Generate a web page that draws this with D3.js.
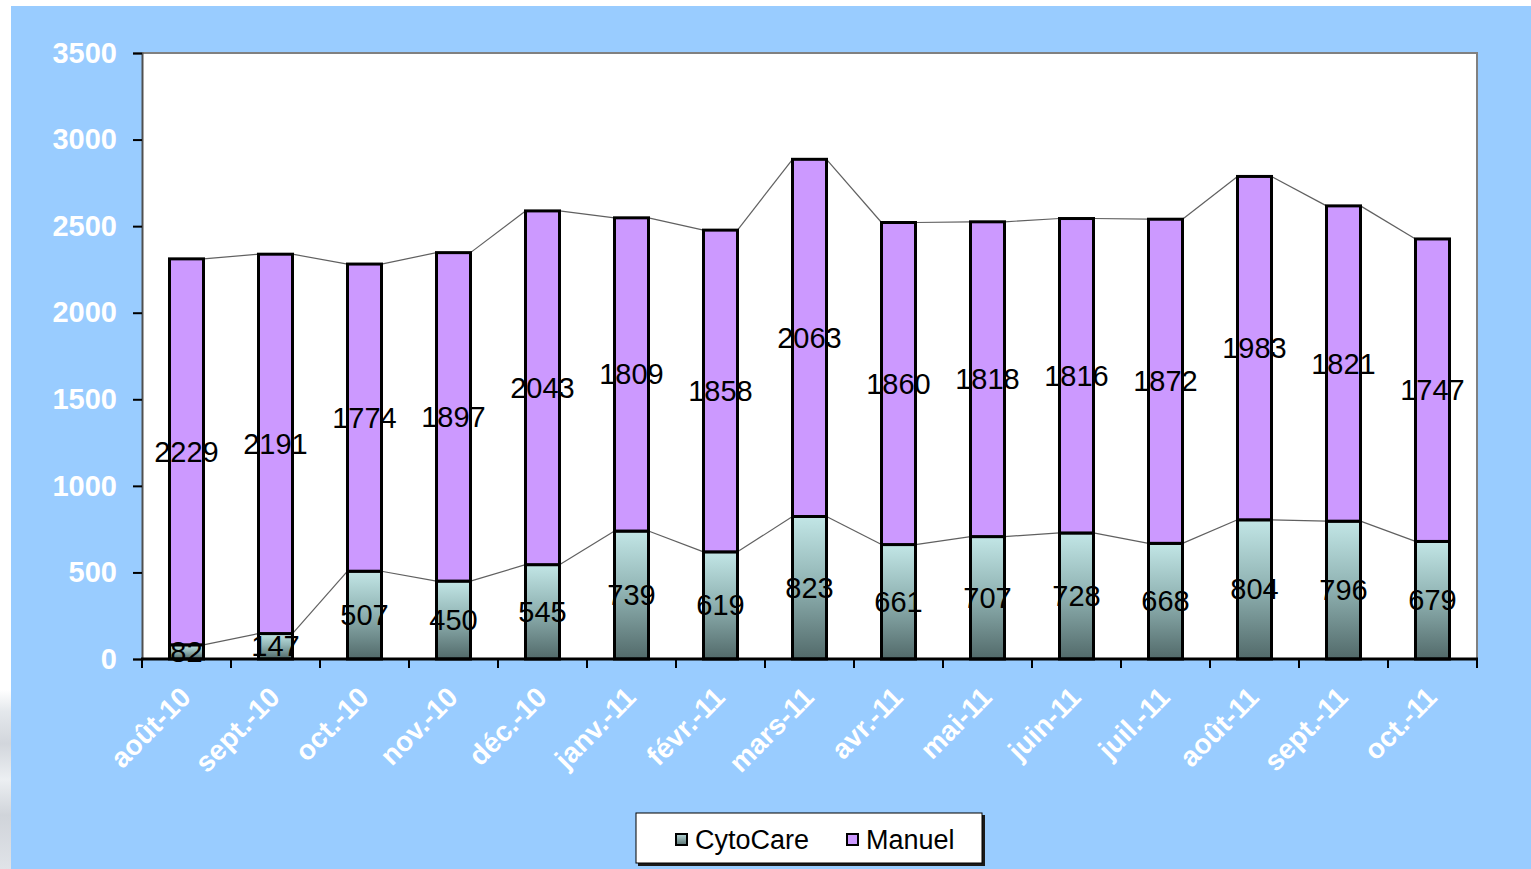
<!DOCTYPE html>
<html>
<head>
<meta charset="utf-8">
<script src="https://cdn.jsdelivr.net/npm/d3@7"></script>
<style>
  html, body { margin: 0; padding: 0; background: #ffffff; }
  svg { display: block; }
  text { font-family: "Liberation Sans", Arial, sans-serif; }
</style>
</head>
<body>
<svg id="chart" width="1531" height="869"></svg>
<script>
// Monthly counts, stacked: CytoCare (bottom) and Manuel (top)
const months = ["août-10", "sept.-10", "oct.-10", "nov.-10", "déc.-10", "janv.-11", "févr.-11",
                "mars-11", "avr.-11", "mai-11", "juin-11", "juil.-11", "août-11", "sept.-11", "oct.-11"];
const cytoCare = [82, 147, 507, 450, 545, 739, 619, 823, 661, 707, 728, 668, 804, 796, 679];
const manuel = [2229, 2191, 1774, 1897, 2043, 1809, 1858, 2063, 1860, 1818, 1816, 1872, 1983, 1821, 1747];
const seriesNames = ["CytoCare", "Manuel"];
const yTicks = [0, 500, 1000, 1500, 2000, 2500, 3000, 3500];

const svg = d3.select("#chart");
const W = 1531, H = 869;
const plot = { left: 142, top: 53, right: 1477, bottom: 659 };

// Page background
svg.append("rect").attr("x", 0).attr("y", 0).attr("width", W).attr("height", H).attr("fill", "#ffffff");
// Soft grey texture at the lower left margin
const defs = svg.append("defs");
const haze = defs.append("linearGradient").attr("id", "haze").attr("x1", 0).attr("y1", 0).attr("x2", 0).attr("y2", 1);
[["0%", "#ffffff"], ["12%", "#e4e8ec"], ["30%", "#d2d6dc"], ["50%", "#eceff2"], ["70%", "#d0d4da"], ["100%", "#e0e3e8"]]
  .forEach(([o, c]) => haze.append("stop").attr("offset", o).attr("stop-color", c));
svg.append("rect").attr("x", 0).attr("y", 690).attr("width", 11).attr("height", H - 690).attr("fill", "url(#haze)");

svg.append("rect").attr("x", 11).attr("y", 6).attr("width", W - 11).attr("height", H - 6).attr("fill", "#99ccff");

// Gradient for CytoCare segments
const grad = defs.append("linearGradient").attr("id", "cytoGrad")
  .attr("x1", 0).attr("y1", 0).attr("x2", 0).attr("y2", 1);
grad.append("stop").attr("offset", "0%").attr("stop-color", "#c2e6e6");
grad.append("stop").attr("offset", "45%").attr("stop-color", "#93b6b6");
grad.append("stop").attr("offset", "100%").attr("stop-color", "#526a6a");
const gradLeg = defs.append("linearGradient").attr("id", "cytoGradLeg")
  .attr("x1", 0).attr("y1", 0).attr("x2", 0).attr("y2", 1);
gradLeg.append("stop").attr("offset", "0%").attr("stop-color", "#b6d8d8");
gradLeg.append("stop").attr("offset", "100%").attr("stop-color", "#5a7272");

const x = d3.scaleBand().domain(months)
  .range([plot.left, plot.right])
  .paddingInner(0.618).paddingOuter(0.309);
const y = d3.scaleLinear().domain([0, 3500]).range([plot.bottom, plot.top]);

// Plot area
svg.append("rect").attr("x", plot.left).attr("y", plot.top)
  .attr("width", plot.right - plot.left).attr("height", plot.bottom - plot.top)
  .attr("fill", "#ffffff");
svg.append("path")
  .attr("d", `M${plot.left},${plot.top}H${plot.right}V${plot.bottom}`)
  .attr("fill", "none").attr("stroke", "#808080").attr("stroke-width", 2);

const rows = months.map((m, i) => ({ month: m, CytoCare: cytoCare[i], Manuel: manuel[i] }));
const stacked = d3.stack().keys(seriesNames)(rows);

// Series lines linking the tops of neighbouring bars
const bw = x.bandwidth();
stacked.forEach(layer => {
  const segs = [];
  for (let i = 0; i < layer.length - 1; i++) {
    segs.push([[x(months[i]) + bw, y(layer[i][1])], [x(months[i + 1]), y(layer[i + 1][1])]]);
  }
  svg.append("g").selectAll("line").data(segs).join("line")
    .attr("x1", d => d[0][0]).attr("y1", d => d[0][1])
    .attr("x2", d => d[1][0]).attr("y2", d => d[1][1])
    .attr("stroke", "#606060").attr("stroke-width", 1.2);
});

// Bars
const fills = { CytoCare: "url(#cytoGrad)", Manuel: "#cc99ff" };
stacked.forEach(layer => {
  svg.append("g").selectAll("rect").data(layer).join("rect")
    .attr("x", (d, i) => x(months[i]))
    .attr("y", d => y(d[1]))
    .attr("width", bw)
    .attr("height", d => y(d[0]) - y(d[1]))
    .attr("fill", fills[layer.key])
    .attr("stroke", "#000000").attr("stroke-width", 3);
});

// Y axis
const yAxis = svg.append("g").attr("transform", `translate(${plot.left},0)`)
  .call(d3.axisLeft(y).tickValues(yTicks).tickSize(9).tickPadding(16).tickFormat(d3.format("d")));
yAxis.select(".domain").attr("stroke", "#505050").attr("stroke-width", 2);
yAxis.selectAll(".tick line").attr("stroke", "#000000").attr("stroke-width", 2);
yAxis.selectAll(".tick text").attr("fill", "#ffffff")
  .style("font-size", "29px").style("font-weight", "bold")
  .style("font-family", "'Liberation Sans', Arial, sans-serif");

// X axis: baseline plus category boundary ticks
const step = x.step();
const boundaries = d3.range(months.length + 1).map(i => plot.left + i * step);
svg.append("line").attr("x1", plot.left - 1).attr("x2", plot.right + 1)
  .attr("y1", plot.bottom).attr("y2", plot.bottom)
  .attr("stroke", "#000000").attr("stroke-width", 3);
svg.append("g").selectAll("line").data(boundaries).join("line")
  .attr("x1", d => d).attr("x2", d => d)
  .attr("y1", plot.bottom).attr("y2", plot.bottom + 9)
  .attr("stroke", "#000000").attr("stroke-width", 2);

// Rotated month labels
svg.append("g").selectAll("text").data(months).join("text")
  .attr("transform", d => `translate(${x(d) + bw / 2 - 8},${plot.bottom + 26}) rotate(-45)`)
  .attr("text-anchor", "end")
  .attr("dy", "0.71em")
  .attr("fill", "#ffffff")
  .style("font-size", "28px").style("font-weight", "bold")
  .text(d => d);

// Value labels centred inside each segment
stacked.forEach(layer => {
  svg.append("g").selectAll("text").data(layer).join("text")
    .attr("x", (d, i) => x(months[i]) + bw / 2)
    .attr("y", d => y((d[0] + d[1]) / 2))
    .attr("text-anchor", "middle")
    .attr("dominant-baseline", "central")
    .attr("fill", "#000000")
    .style("font-size", "29px")
    .text(d => d[1] - d[0]);
});

// Legend
const leg = svg.append("g");
leg.append("rect").attr("x", 638).attr("y", 815).attr("width", 347).attr("height", 51).attr("fill", "#1a1a1a");
leg.append("rect").attr("x", 636).attr("y", 813).attr("width", 346).attr("height", 50)
  .attr("fill", "#ffffff").attr("stroke", "#000000").attr("stroke-width", 1);
const legItems = [
  { name: seriesNames[0], fill: "url(#cytoGradLeg)", x: 675 },
  { name: seriesNames[1], fill: "#cc99ff", x: 846 }
];
legItems.forEach(it => {
  leg.append("rect").attr("x", it.x + 1).attr("y", 834).attr("width", 11).attr("height", 11)
    .attr("fill", it.fill).attr("stroke", "#000000").attr("stroke-width", 2);
  leg.append("text").attr("x", it.x + 20).attr("y", 840)
    .attr("dominant-baseline", "central")
    .attr("fill", "#000000").style("font-size", "27px")
    .text(it.name);
});
</script>
</body>
</html>
